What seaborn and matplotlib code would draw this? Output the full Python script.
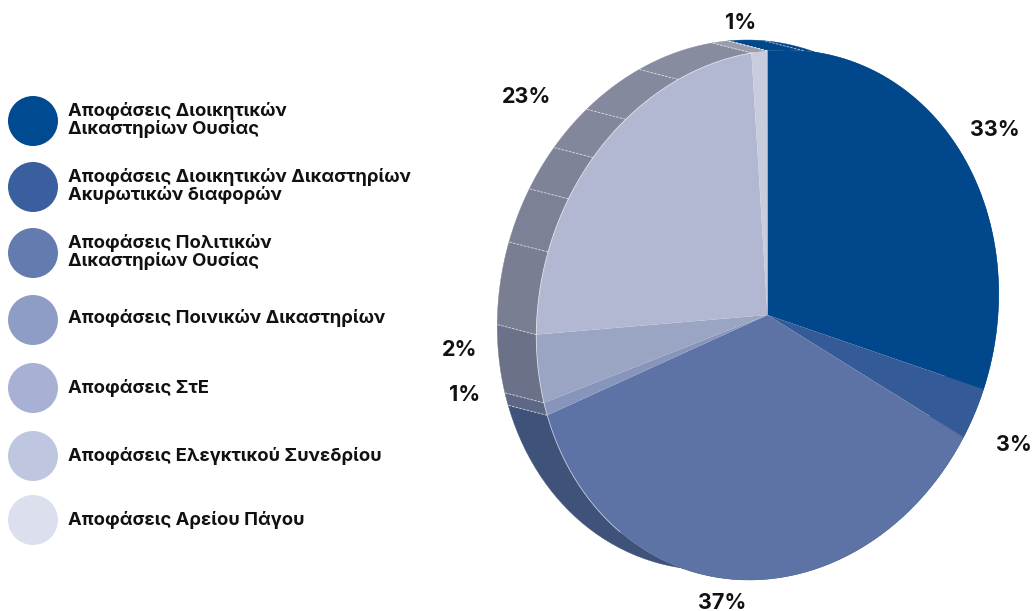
import numpy as np
import matplotlib
matplotlib.use('Agg')
import matplotlib.pyplot as plt
from matplotlib.transforms import Affine2D
import seaborn as sns

names = ['Αποφάσεις Διοικητικών\nΔικαστηρίων Ουσίας',
         'Αποφάσεις Διοικητικών Δικαστηρίων\nΑκυρωτικών διαφορών',
         'Αποφάσεις Πολιτικών\nΔικαστηρίων Ουσίας',
         'Αποφάσεις Ποινικών Δικαστηρίων',
         'Αποφάσεις ΣτΕ',
         'Αποφάσεις Ελεγκτικού Συνεδρίου',
         'Αποφάσεις Αρείου Πάγου']
legend_colors = ['#004a92', '#3a5f9f', '#637bae', '#8e9dc6', '#a8b1d4', '#bfc7e0', '#dcdfee']

# shares as drawn (the tilted pie does not quite follow the printed labels)
shares = [30.8, 3.1, 36.2, 0.8, 4.2, 23.8, 1.1]
top_colors = ['#00478b', '#345b97', '#5d73a5', '#8794bc', '#99a5c3', '#b3b8d2', '#c8ccdd']
pct_labels = ['33%', '3%', '37%', '1%', '2%', '23%', '1%']
label_x = [995, 1014, 722, 465, 460, 527, 741]
label_y = [130, 445, 603, 395, 350, 97, 23]

# side wall, split in facets like the original
side_shares = [2.5, 28.3, 3.1, 36.2, 0.8, 4.2, 5.0, 3.4, 2.9, 3.1, 4.2, 5.2, 1.1]
side_colors = ['#00478b', '#00478b', '#2c4a7c', '#3f5279', '#5d6885', '#6b7189', '#797e92',
               '#7c8195', '#7e8397', '#82879b', '#84899d', '#878c9f', '#9a9dac']

W, H = 1034, 611
cx, cy = 767.5, 315
rx, ry = 230.5, 265
off_x, off_y = -39, -10
skew = 0.08
start = 94.6
circle_y = [121, 187, 253, 320, 388, 456, 520]
legend_y = [120, 186, 252, 318, 388, 456, 520]

sns.set_theme(style='white')
plt.rcParams['font.family'] = ['Inter', 'DejaVu Sans']

fig = plt.figure(figsize=(W / 100, H / 100), dpi=100)

# pie axes: one data unit is rx px across and ry px down, the skew tilts the ellipse
ax = fig.add_axes([0, 0, 1, 1])
wedges, _ = ax.pie(shares, colors=top_colors, startangle=start, counterclock=False,
                   wedgeprops={'linewidth': 0})
ax.set_aspect('auto')
ax.set_xlim(-cx / rx, (W - cx) / rx)
ax.set_ylim((cy - H) / ry, cy / ry)
ax.axis('off')

tilt = Affine2D.from_values(1, 0, skew, 1, 0, 0) + ax.transData
for w in wedges:
    w.set_transform(tilt)
    w.set_zorder(2)

back_y = -off_y / ry
back_x = off_x / rx - skew * back_y

def wall(a0, a1):
    t = np.radians(np.linspace(a0, a1, 60))
    x = np.r_[np.sin(t), np.sin(t[::-1]) + back_x]
    y = np.r_[np.cos(t), np.cos(t[::-1]) + back_y]
    return x, y

first = 90 - start
bounds = first + np.r_[0, np.cumsum(side_shares)] * 3.6
for a0, a1, col in zip(bounds[:-1], bounds[1:], side_colors):
    x, y = wall(a0, a1)
    ax.fill(x, y, color=col, lw=0.3, transform=tilt, zorder=1)

# dashed facet edges on the wall
for a in bounds:
    a = a % 360
    if a > 245 or a < 10:
        t = np.radians(a)
        ax.plot([np.sin(t), np.sin(t) + back_x], [np.cos(t), np.cos(t) + back_y], color='white',
                lw=0.6, ls=(0, (3, 1.5)), alpha=0.7, transform=tilt, zorder=3)

# light rim line between the top and the wall
rim = np.radians(np.linspace(215, 352, 200))
ax.plot(np.sin(rim), np.cos(rim), color='white', lw=0.6, alpha=0.6, transform=tilt, zorder=3)

# overlay in pixel units for legend and labels
ov = fig.add_axes([0, 0, 1, 1])
ov.patch.set_alpha(0)
sns.scatterplot(x=[33] * len(names), y=circle_y, hue=names, palette=legend_colors,
                s=1296, linewidth=0, legend=False, ax=ov)
ov.set_xlim(0, W)
ov.set_ylim(H, 0)
ov.axis('off')

for name, y in zip(names, legend_y):
    ov.text(68, y, name, va='center', ha='left', fontsize=13.25, fontweight='bold',
            color='#111111', linespacing=1.0)

for lab, x, y in zip(pct_labels, label_x, label_y):
    ov.text(x, y, lab, va='center', ha='center', fontsize=15.5, fontweight='bold',
            color='#111111')

fig.savefig('out.png', dpi=100)
